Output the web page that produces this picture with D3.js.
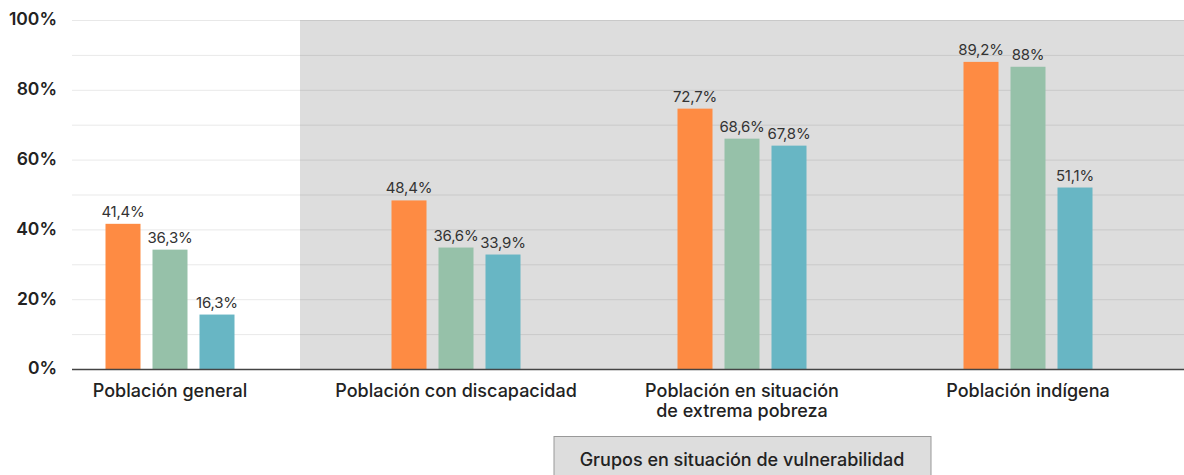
<!DOCTYPE html>
<html>
<head>
<meta charset="utf-8">
<script src="https://cdn.jsdelivr.net/npm/d3@7"></script>
<style>
  body { margin: 0; background: #fff; }
  svg { display: block; font-family: Inter, "Noto Sans", sans-serif; }
</style>
</head>
<body>
<svg id="chart" width="1184" height="475"></svg>
<script>
// categories
const groups = ["Población general", "Población con discapacidad",
  "Población en situación de extrema pobreza", "Población indígena"];
const groupLines = [["Población general"], ["Población con discapacidad"],
  ["Población en situación", "de extrema pobreza"], ["Población indígena"]];
const series = ["s1", "s2", "s3"];
const colors = ["#fe8b43", "#96c1a9", "#68b6c4"];

// bar heights as drawn in the picture (%)
const s1 = [41.6, 48.3, 74.6, 88.0];
const s2 = [34.2, 34.8, 66.0, 86.6];
const s3 = [15.6, 32.8, 64.0, 52.0];
// value labels as printed
const l1 = ["41,4%", "48,4%", "72,7%", "89,2%"];
const l2 = ["36,3%", "36,6%", "68,6%", "88%"];
const l3 = ["16,3%", "33,9%", "67,8%", "51,1%"];

const yTicks = [0, 20, 40, 60, 80, 100];
const gridTicks = [10, 20, 30, 40, 50, 60, 70, 80, 90, 100];
const footLabel = "Grupos en situación de vulnerabilidad";

const W = 1184, H = 475;
const svg = d3.select("#chart");

const y = d3.scaleLinear().domain([0, 100]).range([369, 20]);
const x0 = d3.scaleBand().domain(groups).range([27, 1171]);
const x1 = d3.scaleBand().domain(series).range([0, 129]).paddingInner(12 / 47);
const left = 72;

function gx(g) { return x0(g) + x0.bandwidth() / 2 - 64.5; }

// shaded background for vulnerable groups
svg.append("rect")
  .attr("x", x0(groups[1]) - 13)
  .attr("y", y(100))
  .attr("width", W - (x0(groups[1]) - 13))
  .attr("height", y(0) - y(100))
  .attr("fill", "#dddddd");

// gridlines
svg.append("g").selectAll("line")
  .data(gridTicks).join("line")
  .attr("x1", left).attr("x2", W)
  .attr("y1", d => y(d) + 0.5).attr("y2", d => y(d) + 0.5)
  .attr("stroke", "rgba(0,0,0,0.09)")
  .attr("stroke-width", 1);

// y axis
const yAxis = svg.append("g")
  .attr("transform", `translate(${left},0)`)
  .call(d3.axisLeft(y).tickValues(yTicks).tickFormat(d => d + "%").tickSize(0).tickPadding(15));
yAxis.select(".domain").remove();
yAxis.selectAll("text")
  .attr("font-family", "Inter, sans-serif")
  .attr("font-size", 17.5)
  .attr("font-weight", 600)
  .attr("fill", "#222")
  .attr("dy", "0.28em");

// bars
const rows = groups.map((g, i) => ({
  g,
  vals: [s1[i], s2[i], s3[i]],
  labs: [l1[i], l2[i], l3[i]]
}));

const gGroups = svg.append("g").selectAll("g")
  .data(rows).join("g")
  .attr("transform", d => `translate(${gx(d.g)},0)`);

gGroups.selectAll("rect")
  .data(d => d.vals.map((v, j) => ({ v, s: series[j], c: colors[j], lab: d.labs[j] })))
  .join("rect")
  .attr("x", d => x1(d.s))
  .attr("y", d => y(d.v))
  .attr("width", x1.bandwidth())
  .attr("height", d => y(0) - y(d.v))
  .attr("fill", d => d.c);

gGroups.selectAll("text.val")
  .data(d => d.vals.map((v, j) => ({ v, s: series[j], lab: d.labs[j] })))
  .join("text")
  .attr("class", "val")
  .attr("x", d => x1(d.s) + x1.bandwidth() / 2)
  .attr("y", d => y(d.v) - 7)
  .attr("text-anchor", "middle")
  .attr("font-size", 15)
  .attr("letter-spacing", -0.2)
  .attr("fill", "#333")
  .text(d => d.lab);

// baseline
svg.append("line")
  .attr("x1", left).attr("x2", W)
  .attr("y1", y(0) + 0.5).attr("y2", y(0) + 0.5)
  .attr("stroke", "#444").attr("stroke-width", 1.5);

// category labels
const cat = svg.append("g").selectAll("text")
  .data(groups).join("text")
  .attr("x", d => x0(d) + x0.bandwidth() / 2)
  .attr("y", 397)
  .attr("text-anchor", "middle")
  .attr("font-size", 18)
  .attr("font-weight", 500)
  .attr("fill", "#222");
cat.selectAll("tspan")
  .data((d, i) => groupLines[i])
  .join("tspan")
  .attr("x", function () { return this.parentNode.getAttribute("x"); })
  .attr("dy", (d, i) => i === 0 ? 0 : 20)
  .text(d => d);

// footer box
const cx = x0(groups[2]) + x0.bandwidth() / 2;
svg.append("rect")
  .attr("x", cx - 188.5 + 0.5)
  .attr("y", 436.5)
  .attr("width", 377)
  .attr("height", 60)
  .attr("fill", "#dddddd")
  .attr("stroke", "#999")
  .attr("stroke-width", 1);
svg.append("text")
  .attr("x", cx)
  .attr("y", 466)
  .attr("text-anchor", "middle")
  .attr("font-size", 18)
  .attr("font-weight", 500)
  .attr("fill", "#222")
  .text(footLabel);
</script>
</body>
</html>
